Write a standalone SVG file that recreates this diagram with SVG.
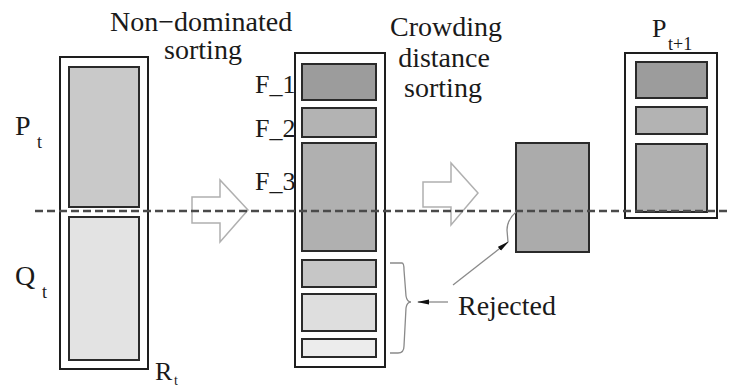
<svg xmlns="http://www.w3.org/2000/svg" width="730" height="387" viewBox="0 0 730 387">
<defs>
<style>
text{font-family:'Liberation Serif','Times New Roman',serif !important;fill:#1a1a1a}
</style>
<marker id="ah" viewBox="0 0 12 6" refX="11" refY="3" markerWidth="12" markerHeight="6" markerUnits="userSpaceOnUse" orient="auto">
<path d="M0,0.5 L12,3 L0,5.5 Z" fill="#111"/>
</marker>
</defs>
<rect width="730" height="387" fill="#fff"/>

<g id="titles">
<text x="110" y="31" font-size="28" font-family="Liberation Serif">Non&#8722;dominated</text>
<text x="203" y="59" font-size="28" text-anchor="middle" font-family="Liberation Serif">sorting</text>
<text x="446" y="36" font-size="28" text-anchor="middle" font-family="Liberation Serif">Crowding</text>
<text x="444" y="67" font-size="28" text-anchor="middle" font-family="Liberation Serif">distance</text>
<text x="443" y="97" font-size="28" text-anchor="middle" font-family="Liberation Serif">sorting</text>
</g>

<g id="Rt" stroke-width="2">
<rect x="60" y="57" width="88" height="312" fill="#fff" stroke="#1e1e1e"/>
<rect x="69" y="67" width="70" height="140" fill="#c9c9c9" stroke="#2a2a2a"/>
<rect x="69" y="217" width="70" height="143" fill="#e3e3e3" stroke="#2a2a2a"/>
<text x="15" y="135" font-size="28" font-family="Liberation Serif" stroke="none">P</text>
<text x="37" y="148" font-size="18" font-family="Liberation Serif" stroke="none">t</text>
<text x="15" y="285" font-size="28" font-family="Liberation Serif" stroke="none">Q</text>
<text x="42" y="298" font-size="18" font-family="Liberation Serif" stroke="none">t</text>
<text x="155" y="380" font-size="26" font-family="Liberation Serif" stroke="none">R</text>
<text x="174" y="385" font-size="14" font-family="Liberation Serif" stroke="none">t</text>
</g>

<g id="fronts" stroke-width="2">
<text x="255" y="93" font-size="26" font-family="Liberation Serif" stroke="none">F_1</text>
<text x="255" y="137" font-size="26" font-family="Liberation Serif" stroke="none">F_2</text>
<text x="255" y="190" font-size="26" font-family="Liberation Serif" stroke="none">F_3</text>
<rect x="295" y="53" width="90" height="314" fill="#fff" stroke="#1e1e1e"/>
<rect x="302" y="64" width="74" height="36" fill="#9c9c9c" stroke="#2a2a2a"/>
<rect x="302" y="108" width="74" height="29" fill="#b3b3b3" stroke="#2a2a2a"/>
<rect x="302" y="143" width="74" height="108" fill="#b0b0b0" stroke="#2a2a2a"/>
<rect x="302" y="260" width="74" height="27" fill="#c6c6c6" stroke="#2a2a2a"/>
<rect x="302" y="294" width="74" height="37" fill="#dedede" stroke="#2a2a2a"/>
<rect x="302" y="339" width="74" height="18" fill="#ececec" stroke="#2a2a2a"/>
</g>

<g id="crowding">
<rect x="516" y="143" width="73" height="109" fill="#ababab" stroke="#2a2a2a" stroke-width="2"/>
</g>

<g id="Pt1" stroke-width="2">
<rect x="625" y="53" width="92" height="165" fill="#fff" stroke="#1e1e1e"/>
<rect x="636" y="62" width="71" height="36" fill="#9c9c9c" stroke="#2a2a2a"/>
<rect x="636" y="107" width="71" height="27" fill="#b3b3b3" stroke="#2a2a2a"/>
<rect x="636" y="144" width="71" height="68" fill="#b0b0b0" stroke="#2a2a2a"/>
<text x="652" y="37" font-size="26" font-family="Liberation Serif" stroke="none">P</text>
<text x="668" y="50" font-size="18" font-family="Liberation Serif" stroke="none">t+1</text>
</g>

<g id="rejected">
<text x="458" y="315" font-size="28" font-family="Liberation Serif">Rejected</text>
</g>

<g id="connectors" fill="none">
<path d="M192,197 H220 V180 L248,210 L220,242 V223 H192 Z" fill="#fff" stroke="#b0b0b0" stroke-width="1.5"/>
<path d="M423,182 H451 V163 L478,193 L451,225 V207 H423 Z" fill="#fff" stroke="#b0b0b0" stroke-width="1.5"/>
<line x1="35" y1="211" x2="727" y2="211" stroke="#4a4a4a" stroke-width="2.5" stroke-dasharray="8 4"/>
<g stroke="#8a8a8a" stroke-width="1.3">
<path d="M390,263 H402 Q404,263 404,270 L406,296 Q407,302 411,302 Q407,302 406,308 L404,346 Q404,353 398,353 H390"/>
<line x1="448" y1="302" x2="418" y2="302" marker-end="url(#ah)"/>
<line x1="453" y1="285" x2="508" y2="242" marker-end="url(#ah)"/>
<path d="M508,242 L507,230 Q507,220 516,212"/>
</g>
</g>
</svg>
